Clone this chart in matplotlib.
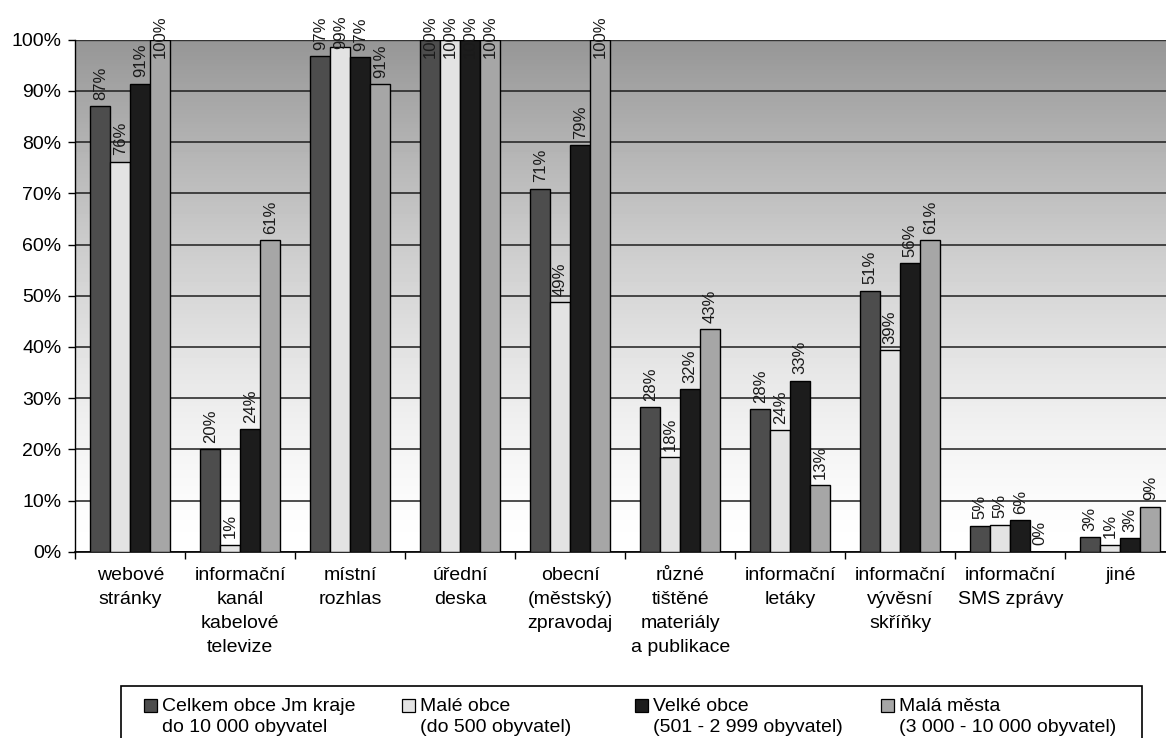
import numpy as np
import matplotlib
matplotlib.use("Agg")
import matplotlib.pyplot as plt
from matplotlib.patches import Rectangle
from matplotlib.ticker import PercentFormatter

plt.rcParams['font.family'] = ['Liberation Sans', 'DejaVu Sans']

# categories (x axis)
categories = ["webové\nstránky", "informační\nkanál\nkabelové\ntelevize",
              "místní\nrozhlas", "úřední\ndeska", "obecní\n(městský)\nzpravodaj",
              "různé\ntištěné\nmateriály\na publikace", "informační\nletáky",
              "informační\nvývěsní\nskříňky", "informační\nSMS zprávy", "jiné"]

# series values in %
celkem = [87.0, 20.0, 96.8, 100, 70.9, 28.2, 27.9, 51.0, 5.1, 2.8]
male_obce = [76.2, 1.4, 98.6, 100, 48.7, 18.4, 23.7, 39.4, 5.3, 1.4]
velke_obce = [91.4, 24.0, 96.6, 100, 79.4, 31.7, 33.4, 56.4, 6.1, 2.7]
mala_mesta = [100, 60.9, 91.3, 100, 100, 43.4, 13.0, 60.9, 0.0, 8.8]

series_names = [("Celkem obce Jm kraje", "do 10 000 obyvatel"),
                ("Malé obce", "(do 500 obyvatel)"),
                ("Velké obce", "(501 - 2 999 obyvatel)"),
                ("Malá města", "(3 000 - 10 000 obyvatel)")]
series = [celkem, male_obce, velke_obce, mala_mesta]
colors = ["#4d4d4d", "#e3e3e3", "#1c1c1c", "#a6a6a6"]

W, H = 1166, 738
fig = plt.figure(figsize=(W / 100, H / 100), dpi=100)
ax = fig.add_axes([75.3 / W, 1 - 551.7 / H, 1100 / W, 512 / H])

n = len(categories)
x = np.arange(n)
ax.set_xlim(-0.5, n - 0.5)
ax.set_ylim(0, 100)

# gradient background
t = np.linspace(0, 1, 256)[:, None]
grad = 255 - 105 * t ** 1.4
ax.imshow(grad, cmap='gray', vmin=0, vmax=255, origin='lower', aspect='auto',
          extent=[-0.5, n - 0.5, 0, 100], zorder=0)

ax.grid(True, axis='y', color='#1e1e1e', lw=1.1, zorder=1)
ax.axhline(100, color='#808080', lw=2, zorder=1.5)

bw = 20 / 110
labels = []
for i, (vals, col) in enumerate(zip(series, colors)):
    pos = x + (i - 1.5) * bw
    ax.bar(pos, vals, width=bw, color=col, edgecolor='black', lw=1, zorder=3)
    for xp, v in zip(pos, vals):
        a = ax.annotate(f"{round(v):.0f}%", (xp, v), xytext=(0, 4.5),
                        textcoords='offset points', rotation=90, ha='center',
                        va='bottom', fontsize=12, color='#1a1a1a',
                        annotation_clip=False, zorder=4)
        labels.append(a)

ax.yaxis.set_major_locator(plt.MultipleLocator(10))
ax.yaxis.set_major_formatter(PercentFormatter(decimals=0))
ax.tick_params(axis='y', direction='out', length=5, width=1, pad=5, labelsize=14)
ax.set_xticks(x)
ax.set_xticklabels(categories, fontsize=14, linespacing=1.55, va='top')
ax.set_xticks(np.arange(n + 1) - 0.5, minor=True)
ax.tick_params(axis='x', which='major', length=0, pad=11)
ax.tick_params(axis='x', which='minor', direction='out', length=5, width=1)

for s in ['top', 'right']:
    ax.spines[s].set_visible(False)
ax.spines['left'].set_linewidth(1)
ax.spines['bottom'].set_linewidth(1.2)

# keep value labels inside the chart area (top edge 15 px)
fig.canvas.draw()
r = fig.canvas.get_renderer()
limit = H - 15
for a in labels:
    bb = a.get_window_extent(r)
    if bb.y1 > limit:
        ox, oy = a.xyann
        a.xyann = (ox, oy - (bb.y1 - limit) * 72 / 100)


# legend drawn by hand
def fx(px):
    return px / W


def fy(py):
    return 1 - py / H


fig.add_artist(Rectangle((fx(120.7), fy(745)), fx(1142) - fx(120.7), fy(686) - fy(745),
                         transform=fig.transFigure, fill=False, ec='black', lw=1.2))
sq_x = [144, 402, 635, 881]
for (l1, l2), col, sx in zip(series_names, colors, sq_x):
    fig.add_artist(Rectangle((fx(sx), fy(711.5)), fx(13), 13 / H,
                             transform=fig.transFigure, fc=col, ec='black', lw=0.9))
    fig.text(fx(sx + 18), fy(711), l1, fontsize=14, va='baseline')
    fig.text(fx(sx + 18), fy(732), l2, fontsize=14, va='baseline')

fig.savefig('out.png', dpi=100)
